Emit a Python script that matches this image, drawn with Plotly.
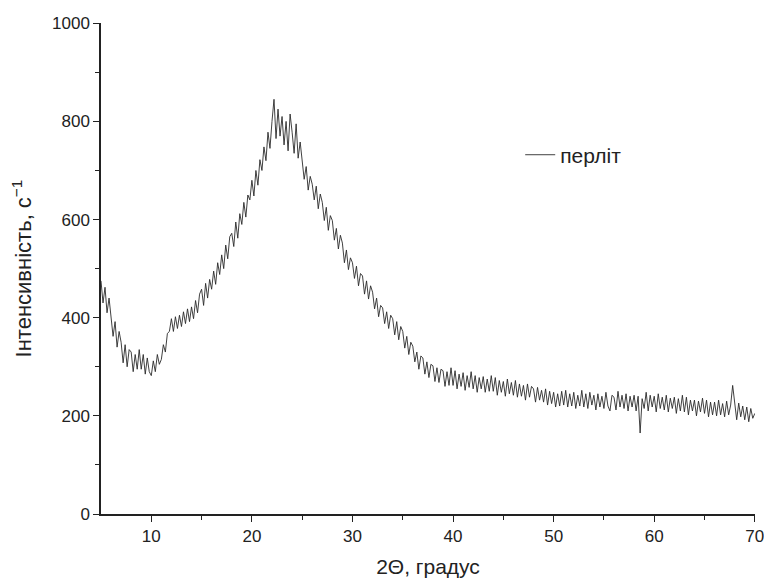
import plotly.graph_objects as go

theta_start = 5.0
theta_step = 0.2

intensity = [
    475, 430, 462, 410, 440,   # 5
    405, 362, 392, 340, 372,   # 6
    350, 308, 345, 300, 335,   # 7
    330, 290, 325, 295, 335,   # 8
    295, 325, 285, 318, 290,   # 9
    282, 312, 290, 325, 305,   # 10
    315, 345, 330, 368, 372,   # 11
    398, 372, 402, 378, 405,   # 12
    382, 412, 388, 418, 392,   # 13
    422, 398, 435, 410, 448,   # 14
    458, 425, 470, 440, 478,   # 15
    458, 495, 468, 512, 488,   # 16
    528, 500, 548, 520, 565,   # 17
    572, 545, 595, 562, 612,   # 18
    590, 635, 605, 650, 640,   # 19
    680, 648, 700, 670, 722,   # 20
    700, 748, 720, 778, 745,   # 21
    800, 845, 765, 825, 770,   # 22
    810, 752, 800, 740, 815,   # 23
    778, 735, 795, 725, 758,   # 24
    720, 682, 708, 660, 688,   # 25
    672, 640, 668, 622, 652,   # 26
    635, 598, 625, 578, 608,   # 27
    598, 558, 582, 540, 568,   # 28
    552, 512, 538, 498, 522,   # 29
    512, 480, 505, 465, 490,   # 30
    485, 448, 475, 438, 465,   # 31
    452, 418, 440, 402, 425,   # 32
    420, 388, 412, 378, 405,   # 33
    398, 365, 392, 355, 382,   # 34
    372, 338, 362, 325, 350,   # 35
    342, 310, 330, 295, 322,   # 36
    318, 285, 310, 278, 305,   # 37
    302, 270, 298, 268, 295,   # 38
    292, 260, 290, 262, 298,   # 39
    262, 292, 255, 285, 260,   # 40
    288, 252, 282, 258, 290,   # 41
    255, 282, 248, 278, 255,   # 42
    280, 248, 275, 250, 282,   # 43
    250, 278, 242, 272, 248,   # 44
    270, 240, 275, 245, 268,   # 45
    242, 272, 238, 265, 240,   # 46
    262, 232, 265, 238, 260,   # 47
    255, 228, 258, 232, 252,   # 48
    228, 255, 222, 250, 225,   # 49
    248, 218, 245, 220, 250,   # 50
    222, 252, 218, 245, 220,   # 51
    248, 215, 242, 220, 252,   # 52
    218, 245, 215, 248, 222,   # 53
    242, 212, 245, 218, 240,   # 54
    215, 248, 220, 210, 242,   # 55
    238, 212, 250, 218, 242,   # 56
    215, 245, 210, 240, 218,   # 57
    242, 210, 240, 165, 235,   # 58
    215, 248, 210, 242, 218,   # 59
    240, 208, 245, 215, 238,   # 60
    212, 242, 208, 236, 215,   # 61
    238, 205, 235, 210, 242,   # 62
    208, 238, 202, 232, 210,   # 63
    232, 200, 230, 208, 236,   # 64
    205, 232, 198, 228, 202,   # 65
    228, 200, 232, 202, 225,   # 66
    198, 230, 202, 222, 262,   # 67
    222, 192, 226, 198, 220,   # 68
    192, 218, 188, 215, 195,   # 69
    205,                       # 70
]

theta = [round(theta_start + theta_step * i, 2) for i in range(len(intensity))]

x_ticks = [10, 20, 30, 40, 50, 60, 70]
y_ticks = [0, 200, 400, 600, 800, 1000]

series_name = "перліт"
x_title = "2Θ, градус"
y_title = "Інтенсивність, с<sup>−1</sup>"

fig = go.Figure()
fig.add_trace(go.Scatter(
    x=theta, y=intensity, mode="lines", name=series_name,
    line=dict(color="#2a2a2a", width=0.9),
))

font_family = "Liberation Sans, Arial, sans-serif"
fig.update_layout(
    width=764, height=587,
    margin=dict(l=101, r=9, t=23, b=73),
    paper_bgcolor="white", plot_bgcolor="white",
    font=dict(family=font_family, size=17, color="#222222"),
    showlegend=True,
    legend=dict(x=0.641, y=0.731, xanchor="left", yanchor="middle",
                bgcolor="rgba(0,0,0,0)", font=dict(size=21)),
)
fig.update_xaxes(
    range=[5, 70.02], tickvals=x_ticks, showline=True, linecolor="#222222", linewidth=1.5,
    ticks="outside", ticklen=6, tickwidth=1.2, tickcolor="#222222",
    ticklabeloverflow="allow", automargin=False,
    minor=dict(ticks="outside", tickvals=[15, 25, 35, 45, 55, 65], ticklen=4, tickcolor="#222222"),
    showgrid=False, zeroline=False,
    title=dict(text=x_title, font=dict(size=21), standoff=14),
)
fig.update_yaxes(
    range=[0, 1000.5], tickvals=y_ticks, showline=True, linecolor="#222222", linewidth=1.5,
    ticks="outside", ticklen=6, tickwidth=1.2, tickcolor="#222222",
    automargin=False,
    minor=dict(ticks="outside", tickvals=[100, 300, 500, 700, 900], ticklen=4, tickcolor="#222222"),
    showgrid=False, zeroline=False,
    title=dict(text=y_title, font=dict(size=22), standoff=14),
)

fig.write_html("out.html", config={"displayModeBar": False},
               post_script="document.body.style.margin='0';")
